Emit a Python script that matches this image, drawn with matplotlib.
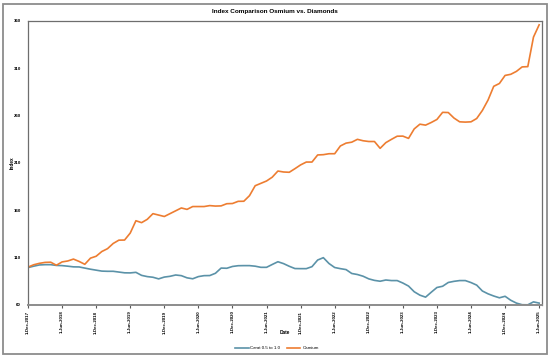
import matplotlib
matplotlib.use("Agg")
import matplotlib.pyplot as plt
from matplotlib.patches import Rectangle

plt.rcParams['font.family'] = ['Liberation Sans', 'DejaVu Sans']

months = [f"{m}-{y}" for y in range(2017, 2026) for m in
          ["Jan", "Feb", "Mar", "Apr", "May", "Jun", "Jul", "Aug", "Sep", "Oct", "Nov", "Dec"]]
months = months[months.index("Dec-2017"):months.index("Jun-2025") + 1]

carat = [99.5, 101, 102.3, 102.6, 102.6, 101.8, 101.6, 101, 100.3, 100.2,
         99, 97.8, 96.8, 95.8, 95.6, 95.6, 94.8, 94, 93.9, 94.5,
         91.3, 90, 89.3, 87.6, 89.5, 90.3, 91.7, 91, 88.7, 87.7,
         90, 91, 91.1, 93.5, 99, 98.8, 100.7, 101.5, 101.6, 101.6,
         101, 99.8, 99.8, 102.8, 105.7, 103.7, 100.9, 98.5, 98.4, 98.4,
         100.5, 107.5, 110, 103.8, 99.6, 98.4, 97.4, 93.3, 92.2, 90.4,
         87.6, 86, 85.1, 86.4, 85.8, 85.8, 83.2, 80, 74, 70.4,
         68.3, 73.5, 78.5, 79.8, 83.8, 85, 85.8, 85.8, 83.7, 81,
         74.8, 71.8, 69.5, 67.6, 69.2, 65, 62, 60.3, 60.2, 63.3, 62]

osmium = [100, 102.5, 104, 105, 105.2, 102, 105.5, 106.5, 108.5, 106,
          103, 109.5, 111.5, 116.5, 119.5, 125, 128.5, 128.6, 136, 149,
          147, 150.5, 156.5, 155, 153.5, 156.5, 159.5, 162.5, 161, 164,
          164, 164, 165, 164.5, 164.7, 167, 167.2, 169.5, 169.6, 175.5,
          186, 188.5, 191, 195, 201.5, 200.5, 200.2, 204, 208, 211,
          211, 218.5, 218.8, 219.8, 219.8, 228, 231, 232, 235, 233.5,
          232.7, 232.7, 225.5, 231.5, 235, 238.3, 238.4, 236, 246, 251,
          250, 252.8, 256, 263.5, 263.3, 257.5, 253.5, 253.2, 253.5, 257,
          265.5, 276.5, 291, 294, 302.5, 303.7, 306.8, 311.5, 311.8, 343, 356]

tick_labels = ["1-Dec-2017", "1-Jun-2018", "1-Dec-2018", "1-Jun-2019", "1-Dec-2019",
               "1-Jun-2020", "1-Dec-2020", "1-Jun-2021", "1-Dec-2021", "1-Jun-2022",
               "1-Dec-2022", "1-Jun-2023", "1-Dec-2023", "1-Jun-2024", "1-Dec-2024",
               "1-Jun-2025"]
y_ticks = [60, 110, 160, 210, 260, 310, 360]

W, H = 550, 358
fig = plt.figure(figsize=(W / 100, H / 100), dpi=100)
fig.patch.set_facecolor('white')
fig.add_artist(Rectangle((3 / W, 4 / H), 544 / W, 350 / H, transform=fig.transFigure,
                         fill=False, edgecolor='#8c8c8c', linewidth=1.3))

ax = fig.add_axes([28 / W, 1 - 305 / H, 514 / W, 284 / H])
x = list(range(len(months)))
ax.plot(x, carat, color='#5B92A8', linewidth=1.2, label='Carat 0.5 to 1.0')
ax.plot(x, osmium, color='#ED7D31', linewidth=1.2, label='Osmium')

ax.set_xlim(0, 90.5)
ax.set_ylim(60, 360)
ax.set_yticks(y_ticks)
ax.set_yticklabels([str(v) for v in y_ticks], fontsize=3.2, fontweight='bold')
ax.set_xticks(list(range(0, len(months), 6)))
ax.set_xticklabels(tick_labels, rotation=90, fontsize=3.2, fontweight='bold')
ax.tick_params(axis='y', length=0, pad=5)
ax.tick_params(axis='x', length=2, width=0.8, color='#595959', pad=2)

for s in ['left', 'top', 'right']:
    ax.spines[s].set_color('#6e6e6e')
    ax.spines[s].set_linewidth(0.9)
ax.spines['bottom'].set_color('#8c8c8c')
ax.spines['bottom'].set_linewidth(1.4)

fig.text(0.5, 1 - 12 / H, 'Index Comparison Osmium vs. Diamonds', ha='center', va='center',
         fontsize=4.6, fontweight='bold')
fig.text(12 / W, 1 - 163 / H, 'Index', rotation=90, ha='center', va='center',
         fontsize=3.4, fontweight='bold')
fig.text(285 / W, 1 - 333 / H, 'Date', ha='center', va='center',
         fontsize=3.4, fontweight='bold')

leg = fig.legend(loc='center', bbox_to_anchor=(277 / W, 1 - 348 / H), ncol=2,
                 frameon=False, fontsize=3.2, handlelength=3.0, columnspacing=1.5,
                 handletextpad=0.4)

fig.savefig('out.png', dpi=100)
